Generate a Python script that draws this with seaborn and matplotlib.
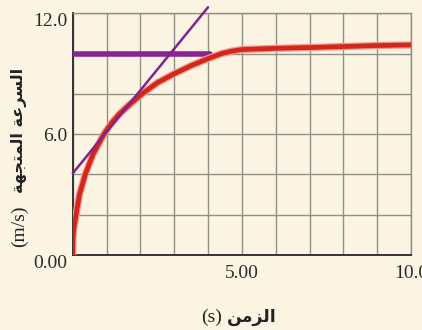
import matplotlib
matplotlib.use("Agg")
import matplotlib.pyplot as plt
import matplotlib.patheffects as pe
import numpy as np
import pandas as pd
import seaborn as sns

# velocity-time curve
time_s = [0.0, 0.01, 0.04, 0.1, 0.2, 0.37, 0.6, 0.92, 1.15, 1.38, 1.7, 2.05,
          2.5, 3.0, 3.5, 4.0, 4.4, 4.7, 5.0, 6.0, 7.0, 8.0, 9.0, 10.0]
speed = [0.0, 0.9, 1.4, 2.0, 3.0, 4.0, 5.0, 6.0, 6.55, 7.0, 7.5, 8.0,
         8.55, 9.0, 9.4, 9.75, 10.0, 10.12, 10.2, 10.26, 10.3, 10.35, 10.4, 10.43]

# tangent at t ~ 1.5 s and the limiting speed line
tangent_t = [0.0, 4.0]
tangent_v = [4.05, 12.3]
limit_t = [0.0, 4.05]
limit_v = [10.0, 10.0]

x_ticks = [5, 10]
x_tick_labels = ["5.00", "10.0"]
y_ticks = [6, 12]
y_tick_labels = ["6.0", "12.0"]
origin_label = "0.00"

# Arabic labels, pre-shaped (presentation forms) in visual order
ylabel_ar = "\uFE94\uFEEC\uFEA0\uFE98\uFEE4\uFEDF\uFE8D \uFE94\uFECB\uFEAE\uFEB4\uFEDF\uFE8D"
ylabel_unit = "(m/s)"
xlabel_ar = "\uFEE6\uFEE3\uFEB0\uFEDF\uFE8D"
xlabel_unit = "(s)"

sns.set_style("white")
bg = "#fcf4e2"
serif = ["Liberation Serif", "DejaVu Serif"]

fig = plt.figure(figsize=(4.22, 3.30), dpi=100, facecolor=bg)
ax = fig.add_axes([0.1723, 0.2273, 0.8017, 0.7324])
ax.set_facecolor(bg)

# limiting speed (thick purple)
sns.lineplot(x=limit_t, y=limit_v, ax=ax, color="#8b2393", linewidth=4.0,
             estimator=None, sort=False, zorder=3)

# measured curve (red with a light halo)
df = pd.DataFrame({"t": time_s, "v": speed})
sns.lineplot(data=df, x="t", y="v", ax=ax, color="#d3261d", linewidth=3.4,
             estimator=None, sort=False, zorder=4)
ax.lines[-1].set_path_effects([pe.Stroke(linewidth=5.2, foreground="#f0998a"), pe.Normal()])
ax.lines[-1].set_solid_capstyle("butt")

# tangent line, runs past the top of the axes
sns.lineplot(x=tangent_t, y=tangent_v, ax=ax, color="#7e268e", linewidth=1.8,
             estimator=None, sort=False, zorder=5)
ax.lines[-1].set_clip_on(False)

ax.set_xlim(0, 10)
ax.set_ylim(0, 12)
ax.set_xlabel("")
ax.set_ylabel("")

# grid every 1 s and every 2 m/s
ax.set_xticks(np.arange(0, 11, 1), minor=True)
ax.set_yticks(np.arange(0, 13, 2), minor=True)
ax.set_xticks(x_ticks)
ax.set_xticklabels(x_tick_labels)
ax.set_yticks(y_ticks)
ax.set_yticklabels(y_tick_labels)
ax.grid(which="both", color="#8f8f88", linewidth=1.0)
ax.set_axisbelow(True)
ax.tick_params(which="both", length=0)
ax.tick_params(axis="y", pad=4)
ax.tick_params(axis="x", pad=7)
for lab in ax.get_xticklabels() + ax.get_yticklabels():
    lab.set_fontfamily(serif)
    lab.set_fontsize(14)
    lab.set_color("#2b2b2b")
ax.get_yticklabels()[1].set_va("top")

for side in ["top", "right"]:
    ax.spines[side].set_color("#8f8f88")
    ax.spines[side].set_linewidth(1.0)
for side in ["left", "bottom"]:
    ax.spines[side].set_color("#333333")
    ax.spines[side].set_linewidth(1.4)

fig.text(67 / 422, 1 - 263.5 / 330, origin_label, ha="right", va="center",
         fontfamily=serif, fontsize=14, color="#2b2b2b")

# y label: unit at the bottom, Arabic above it
fig.text(19 / 422, 1 - 226 / 330, ylabel_unit, rotation=90, ha="center", va="center",
         fontfamily=serif, fontsize=14, color="#222222")
fig.text(19 / 422, 1 - 130 / 330, ylabel_ar, rotation=90, ha="center", va="center",
         fontfamily="DejaVu Sans", fontweight="bold", fontsize=11.5, color="#222222")

# x label
fig.text(212 / 422, 1 - 317 / 330, xlabel_unit, ha="center", va="center",
         fontfamily=serif, fontsize=14, color="#222222")
fig.text(252 / 422, 1 - 317 / 330, xlabel_ar, ha="center", va="center",
         fontfamily="DejaVu Sans", fontweight="bold", fontsize=12.5, color="#222222")

fig.savefig("out.png", dpi=100, facecolor=bg)
plt.close(fig)
